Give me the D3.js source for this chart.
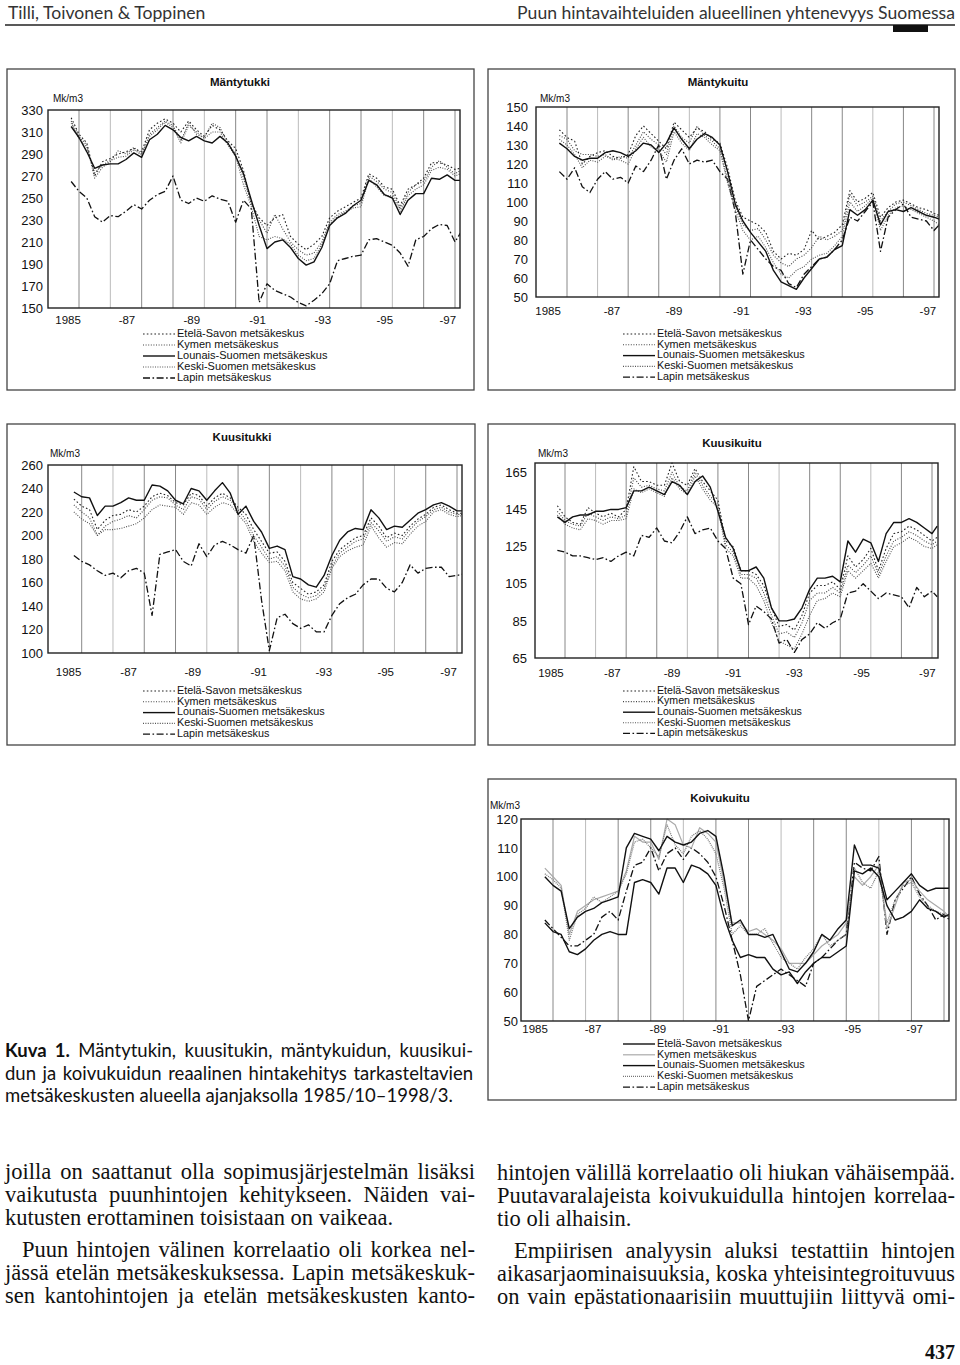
<!DOCTYPE html>
<html>
<head>
<meta charset="utf-8">
<script src="https://cdn.jsdelivr.net/npm/d3@7"></script>
<style>
  body { margin: 0; background: #fff; }
  svg { display: block; }
</style>
</head>
<body>
<svg id="page" width="960" height="1365"></svg>
<script>
// quarterly sampling, 1985/10 ... 1998/1 + 1998/3
const dates = [1985.75,
  1986, 1986.25, 1986.5, 1986.75,
  1987, 1987.25, 1987.5, 1987.75,
  1988, 1988.25, 1988.5, 1988.75,
  1989, 1989.25, 1989.5, 1989.75,
  1990, 1990.25, 1990.5, 1990.75,
  1991, 1991.25, 1991.5, 1991.75,
  1992, 1992.25, 1992.5, 1992.75,
  1993, 1993.25, 1993.5, 1993.75,
  1994, 1994.25, 1994.5, 1994.75,
  1995, 1995.25, 1995.5, 1995.75,
  1996, 1996.25, 1996.5, 1996.75,
  1997, 1997.25, 1997.5, 1997.75,
  1998, 1998.17];

const regions = ["Etelä-Savon metsäkeskus", "Kymen metsäkeskus", "Lounais-Suomen metsäkeskus",
                 "Keski-Suomen metsäkeskus", "Lapin metsäkeskus"];
const yearLabels = ["1985", "-87", "-89", "-91", "-93", "-95", "-97"];
const gridYears = [1986, 1987, 1988, 1989, 1990, 1991, 1992, 1993, 1994, 1995, 1996, 1997, 1998];

// Mäntytukki (Mk/m3)
const mtEtelaSavo = [323, 308,300,270,283, 286,290,292,295, 292,312,318,322, 318,310,320,312, 306,316,312,302, 295,275,245,232, 225,232,235,215, 208,203,208,215, 232,238,242,246, 250,272,268,260, 258,243,258,262, 268,282,282,280, 276,277];
const mtKymi      = [320, 306,298,268,278, 283,293,290,296, 290,308,314,320, 316,302,318,308, 305,318,314,300, 290,268,245,230, 218,235,222,210, 203,198,200,210, 228,235,238,243, 245,270,265,258, 255,240,255,262, 265,278,284,278, 272,275];
const mtLounais   = [315, 305,292,277,280, 281,281,285,291, 287,303,308,316, 312,305,302,306, 302,300,306,300, 288,272,248,225, 204,210,212,205, 195,189,192,205, 225,232,236,243, 248,266,262,253, 250,235,248,254, 254,268,267,271, 266,266];
const mtKeski     = [318, 304,296,273,280, 284,287,288,294, 289,306,312,319, 314,300,316,310, 304,310,310,298, 288,262,242,215, 212,215,213,208, 198,193,195,208, 226,233,237,241, 242,268,260,252, 252,238,252,258, 262,275,278,276, 270,272];
const mtLappi     = [265, 256,250,233,228, 234,233,238,244, 240,248,253,256, 270,248,245,250, 247,252,249,247, 228,248,240,155, 172,166,163,160, 155,152,157,163, 172,193,195,197, 198,212,213,210, 207,200,188,212, 215,222,226,225, 210,218];

// Mäntykuitu
const mkEtelaSavo = [138, 134,132,120,124, 126,127,124,123, 125,135,140,136, 132,128,142,138, 134,139,137,133, 131,118,101,92, 90,88,84,74, 70,73,72,75, 85,80,82,84, 88,106,100,102, 105,92,97,100, 101,99,97,96, 94,93];
const mkKymi      = [135, 133,127,125,125, 124,125,122,124, 123,130,137,133, 130,125,140,134, 131,140,135,132, 128,112,98,88, 85,86,80,72, 68,66,70,72, 76,82,80,82, 85,104,98,100, 103,90,95,99, 100,98,96,94, 93,92];
const mkLounais   = [131, 128,124,122,123, 123,126,127,126, 124,127,131,130, 126,131,139,133, 128,133,136,134, 130,116,99,90, 84,79,74,64, 58,56,54,60, 65,70,71,75, 77,96,93,96, 101,88,95,96, 95,97,95,93, 92,91];
const mkKeski     = [133, 130,125,118,122, 121,124,123,122, 120,128,134,129, 127,121,137,131, 127,136,134,130, 127,110,96,85, 80,82,76,68, 62,60,64,66, 70,72,73,77, 82,100,95,98, 102,85,93,97, 98,96,94,92, 90,88];
const mkLappi     = [116, 112,118,108,105, 112,116,112,113, 110,119,116,122, 130,112,122,128, 120,122,121,122, 116,112,95,62, 80,75,70,66, 64,57,55,62, 66,70,71,75, 80,92,90,95, 100,74,92,96, 99,92,91,90, 85,88];

// Kuusitukki
const ktEtelaSavo = [231, 225,222,205,213, 217,218,222,220, 225,233,236,234, 228,226,236,234, 225,232,236,232, 224,218,205,195, 185,186,178,160, 155,150,152,158, 178,188,193,198, 200,215,208,198, 202,200,208,214, 218,224,226,222, 219,219];
const ktKymi      = [226, 220,215,200,208, 212,214,217,215, 222,230,233,232, 226,222,233,231, 222,229,233,230, 222,213,200,190, 180,182,174,156, 150,147,149,155, 174,185,190,195, 197,211,204,195, 199,197,205,212, 216,222,224,220, 218,218];
const ktLounais   = [237, 233,232,217,225, 225,228,232,230, 230,243,242,238, 230,227,240,238, 230,238,245,236, 218,225,212,203, 189,191,188,165, 163,158,156,166, 183,196,203,206, 205,222,215,205, 208,207,213,219, 222,226,228,225, 221,221];
const ktKeski     = [220, 214,210,200,205, 205,206,208,210, 215,222,226,225, 224,218,228,226, 218,224,228,226, 218,210,195,185, 177,178,170,152, 146,144,146,152, 172,182,187,190, 192,208,198,190, 194,193,201,208, 212,220,222,218, 216,217];
const ktLappi     = [183, 178,175,170,166, 168,164,170,172, 168,132,184,186, 188,178,174,193, 182,192,195,192, 188,185,200,145, 102,130,133,125, 121,124,118,118, 132,142,147,150, 158,163,163,155, 152,160,175,168, 172,173,173,165, 166,167];

// Kuusikuitu
const kkEtelaSavo = [147, 141,138,137,146, 143,141,143,141, 145,168,160,160, 158,158,170,160, 158,167,160,155, 150,128,125,112, 112,110,104,92, 82,83,80,88, 100,104,104,106, 102,120,114,118, 124,112,124,132, 133,136,134,131, 128,130];
const kkKymi      = [144, 139,137,136,143, 141,139,141,140, 142,162,157,158, 156,155,165,157, 155,165,158,152, 148,126,122,110, 110,108,100,88, 78,79,76,84, 96,100,100,103, 100,115,111,115, 120,110,120,128, 130,133,131,128, 126,128];
const kkLounais   = [141, 138,141,142,142, 144,144,145,145, 146,155,155,157, 155,153,160,158, 153,160,163,157, 144,130,124,112, 112,114,108,92, 85,85,86,92, 102,108,108,109, 106,128,122,129, 127,117,132,138, 138,140,138,135, 132,136];
const kkKeski     = [142, 137,135,134,140, 139,137,139,139, 140,156,154,156, 154,152,162,156, 153,163,156,150, 146,124,120,108, 108,104,96,84, 74,72,70,78, 88,96,97,100, 98,112,108,112, 116,108,117,125, 127,130,128,125, 124,126];
const kkLappi     = [123, 122,120,120,119, 118,119,117,120, 122,120,131,130, 135,128,127,133, 141,132,134,135, 128,124,108,105, 83,93,90,86, 73,75,68,75, 78,84,81,84, 86,100,101,105, 101,97,100,99, 98,92,103,98, 101,98];

// Koivukuitu
const kvEtelaSavo = [100, 97,95,82,86, 88,89,91,92, 93,110,115,114, 113,109,114,112, 111,112,115,116, 114,100,83,85, 80,80,79,80, 74,68,67,70, 74,80,78,82, 85,111,104,104, 103,92,95,98, 101,97,95,96, 96,96];
const kvKymi      = [103, 100,97,80,88, 90,92,93,94, 95,102,114,112, 112,106,120,118, 111,110,117,115, 112,98,84,84, 81,82,80,78, 75,70,70,70, 73,76,78,80, 84,100,97,100, 104,82,90,98, 99,95,92,90, 88,86];
const kvLounais   = [84, 81,80,74,73, 75,78,80,81, 80,80,98,99, 98,94,103,103, 98,104,103,101, 97,86,78,72, 73,72,72,68, 66,67,63,67, 70,72,72,74, 76,102,101,103, 100,90,85,86, 88,92,89,88, 86,87];
const kvKeski     = [101, 99,96,78,87, 89,93,91,93, 95,101,112,113, 110,107,118,111, 108,114,116,113, 108,96,80,83, 80,80,82,77, 72,70,68,72, 75,80,76,78, 80,103,98,96, 102,84,92,97, 98,93,90,88, 87,86];
const kvLappi     = [85, 82,79,76,76, 78,80,86,88, 85,95,104,105, 110,102,108,110, 106,110,108,105, 100,90,78,66, 50,62,64,66, 68,66,64,62, 70,72,75,78, 80,105,103,102, 107,80,92,96, 100,94,90,85, 87,85];

// line styles
const dashDot = "7,2.5,1.6,2.5";
const southStyles = [
  { color: "#222", width: 1.1, dash: "1.6,2.2" },
  { color: "#444", width: 1.1, dash: "1,1.6" },
  { color: "#111", width: 1.4, dash: null },
  { color: "#555", width: 1.1, dash: "1,1.4" },
  { color: "#111", width: 1.3, dash: dashDot }
];
const koivuStyles = [
  { color: "#111", width: 1.4, dash: null },
  { color: "#aaa", width: 1.2, dash: null },
  { color: "#111", width: 1.4, dash: null },
  { color: "#777", width: 1.2, dash: "1,1" },
  { color: "#111", width: 1.3, dash: dashDot }
];

const panels = [
  { title: "Mäntytukki", frame: [7, 69, 474, 390], plot: [48, 110, 460, 308], x86: 79, x98: 455,
    yDomain: [150, 330], yTicks: d3.range(150, 331, 20), titleXY: [240, 82], unitXY: [53, 98],
    labelAt: [1985.65, 1987.53, 1989.6, 1991.7, 1993.78, 1995.76, 1997.77], xLabelY: 320,
    legend: [143, 333, 11], styles: southStyles,
    series: [mtEtelaSavo, mtKymi, mtLounais, mtKeski, mtLappi] },
  { title: "Mäntykuitu", frame: [488, 69, 955, 390], plot: [536, 107, 939, 297], x86: 567, x98: 934,
    yDomain: [50, 150], yTicks: d3.range(50, 151, 10), titleXY: [718, 82], unitXY: [540, 98],
    labelAt: [1985.38, 1987.47, 1989.5, 1991.7, 1993.73, 1995.75, 1997.8], xLabelY: 311,
    legend: [623, 333, 10.8], styles: southStyles,
    series: [mkEtelaSavo, mkKymi, mkLounais, mkKeski, mkLappi] },
  { title: "Kuusitukki", frame: [7, 424, 475, 745], plot: [48, 465, 462, 653], x86: 81.7, x98: 457,
    yDomain: [100, 260], yTicks: d3.range(100, 261, 20), titleXY: [242, 437], unitXY: [50, 453],
    labelAt: [1985.58, 1987.5, 1989.55, 1991.66, 1993.74, 1995.72, 1997.73], xLabelY: 672,
    legend: [143, 690, 10.8], styles: southStyles,
    series: [ktEtelaSavo, ktKymi, ktLounais, ktKeski, ktLappi] },
  { title: "Kuusikuitu", frame: [488, 424, 955, 745], plot: [535, 463, 938, 658], x86: 565, x98: 932,
    yDomain: [65, 170], yTicks: d3.range(65, 166, 20), titleXY: [732, 443], unitXY: [538, 453],
    labelAt: [1985.54, 1987.55, 1989.5, 1991.5, 1993.5, 1995.7, 1997.85], xLabelY: 673,
    legend: [623, 690, 10.6], styles: southStyles,
    series: [kkEtelaSavo, kkKymi, kkLounais, kkKeski, kkLappi] },
  { title: "Koivukuitu", frame: [488, 779, 956, 1100], plot: [521, 819, 949, 1021], x86: 553, x98: 944,
    yDomain: [50, 120], yTicks: d3.range(50, 121, 10), titleXY: [720, 798], unitXY: [490, 805],
    labelAt: [1985.45, 1987.23, 1989.22, 1991.15, 1993.15, 1995.2, 1997.1], xLabelY: 1029,
    legend: [623, 1043, 10.8], styles: koivuStyles,
    series: [kvEtelaSavo, kvKymi, kvLounais, kvKeski, kvLappi] }
];

const svg = d3.select("#page");
const chartFont = "'Liberation Sans', Arial, sans-serif";

function applyStyle(sel, st) {
  sel.attr("fill", "none")
    .attr("stroke", st.color)
    .attr("stroke-width", st.width)
    .attr("stroke-dasharray", st.dash);
}

function drawPanel(p, idx) {
  const g = svg.append("g");
  const [fx0, fy0, fx1, fy1] = p.frame;
  const [px0, py0, px1, py1] = p.plot;

  g.append("rect")
    .attr("x", fx0).attr("y", fy0)
    .attr("width", fx1 - fx0).attr("height", fy1 - fy0)
    .attr("fill", "none").attr("stroke", "#444").attr("stroke-width", 1.3);

  const x = d3.scaleLinear().domain([1986, 1998]).range([p.x86, p.x98]);
  const y = d3.scaleLinear().domain(p.yDomain).range([py1, py0]);

  // yearly gridlines
  g.selectAll("line.grid")
    .data(gridYears)
    .join("line")
    .attr("class", "grid")
    .attr("x1", d => x(d)).attr("x2", d => x(d))
    .attr("y1", py0).attr("y2", py1)
    .attr("stroke", (d, i) => i % 3 === 1 ? "#bbb" : "#888")
    .attr("stroke-width", 1);

  // y axis labels
  const yAxis = d3.axisLeft(y).tickValues(p.yTicks).tickSize(0).tickPadding(idx === 4 ? 3 : (px0 > 500 ? 8 : 5));
  const ya = g.append("g").attr("transform", `translate(${px0},0)`).call(yAxis);
  ya.select(".domain").remove();
  ya.selectAll("text")
    .attr("font-family", chartFont)
    .attr("font-size", "13px")
    .attr("fill", "#111");

  // x labels
  g.selectAll("text.xl")
    .data(yearLabels)
    .join("text")
    .attr("class", "xl")
    .attr("x", (d, i) => x(p.labelAt[i]))
    .attr("y", p.xLabelY)
    .attr("dy", "0.35em")
    .attr("text-anchor", "middle")
    .attr("font-family", chartFont)
    .attr("font-size", "11.5px")
    .attr("fill", "#111")
    .text(d => d);

  // series
  const clipId = "clip" + idx;
  svg.append("clipPath").attr("id", clipId)
    .append("rect").attr("x", px0).attr("y", py0 - 2)
    .attr("width", px1 - px0).attr("height", py1 - py0 + 2);

  const line = d3.line()
    .x((d, i) => x(dates[i]))
    .y(d => y(d));

  const lines = g.append("g").attr("clip-path", `url(#${clipId})`);
  // Lapin first, solid last so it stays on top
  [4, 1, 3, 0, 2].forEach(k => {
    lines.append("path")
      .attr("d", line(p.series[k]))
      .call(applyStyle, p.styles[k])
      .attr("stroke-linejoin", "round");
  });

  // plot border
  g.append("rect")
    .attr("x", px0).attr("y", py0)
    .attr("width", px1 - px0).attr("height", py1 - py0)
    .attr("fill", "none").attr("stroke", "#222").attr("stroke-width", 1.4);

  // title and unit
  g.append("text")
    .attr("x", p.titleXY[0]).attr("y", p.titleXY[1])
    .attr("dy", "0.35em")
    .attr("text-anchor", "middle")
    .attr("font-family", chartFont)
    .attr("font-weight", "bold")
    .attr("font-size", "11.5px")
    .attr("fill", "#111")
    .text(p.title);

  g.append("text")
    .attr("x", p.unitXY[0]).attr("y", p.unitXY[1])
    .attr("dy", "0.35em")
    .attr("font-family", chartFont)
    .attr("font-size", "10px")
    .attr("fill", "#111")
    .text("Mk/m3");

  // legend
  const [lx, ly, step] = p.legend;
  const leg = g.append("g");
  regions.forEach((r, k) => {
    const yy = ly + k * step;
    leg.append("line")
      .attr("x1", lx).attr("x2", lx + 32)
      .attr("y1", yy + 1).attr("y2", yy + 1)
      .call(applyStyle, p.styles[k]);
    leg.append("text")
      .attr("x", lx + 34).attr("y", yy)
      .attr("dy", "0.35em")
      .attr("font-family", chartFont)
      .attr("font-size", Math.min(11.2, step) + "px")
      .attr("fill", "#111")
      .text(r);
  });
}

panels.forEach(drawPanel);

// ---- page text ----
const headFont = "Lato, 'Open Sans', sans-serif";
const bodyFont = "'Liberation Serif', 'Times New Roman', serif";

// justify a text element to width w by spreading word spacing
function justify(sel, w) {
  const node = sel.node();
  const natural = node.getComputedTextLength();
  const spaces = (node.textContent.match(/ /g) || []).length;
  if (natural > w) {
    sel.attr("textLength", w).attr("lengthAdjust", "spacingAndGlyphs");
  } else if (spaces > 0) {
    sel.attr("word-spacing", (w - natural) / spaces);
  }
}

svg.append("text").attr("x", 8).attr("y", 19)
  .attr("font-family", headFont).attr("font-size", "17.6px")
  .attr("fill", "#333")
  .text("Tilli, Toivonen & Toppinen");
svg.append("text").attr("x", 955).attr("y", 19)
  .attr("text-anchor", "end")
  .attr("font-family", headFont).attr("font-size", "17.6px")
  .attr("fill", "#333")
  .text("Puun hintavaihteluiden alueellinen yhtenevyys Suomessa");
svg.append("line").attr("x1", 5).attr("x2", 955).attr("y1", 25).attr("y2", 25)
  .attr("stroke", "#222").attr("stroke-width", 1.5);
svg.append("rect").attr("x", 893).attr("y", 25).attr("width", 35).attr("height", 7).attr("fill", "#111");

// caption
const captionLines = [
  "Mäntytukin, kuusitukin, mäntykuidun, kuusikui-",
  "dun ja koivukuidun reaalinen hintakehitys tarkasteltavien",
  "metsäkeskusten alueella ajanjaksolla 1985/10–1998/3."
];
const capWidths = [468, 468, 0];
captionLines.forEach((t, i) => {
  const tx = svg.append("text")
    .attr("x", 5).attr("y", 1057 + i * 22.5)
    .attr("font-family", headFont).attr("font-size", "18.5px").attr("fill", "#111");
  if (i === 0) {
    tx.append("tspan").attr("font-weight", "bold").text("Kuva 1. ");
  }
  tx.append("tspan").text(t);
  if (capWidths[i]) justify(tx, capWidths[i]);
});

// body text, two justified columns
const leftCol = [
  { t: "joilla on saattanut olla sopimusjärjestelmän lisäksi", x: 5, w: 470 },
  { t: "vaikutusta puunhintojen kehitykseen. Näiden vai-", x: 5, w: 470 },
  { t: "kutusten erottaminen toisistaan on vaikeaa.", x: 5, w: 0 },
  { t: "Puun hintojen välinen korrelaatio oli korkea nel-", x: 22, w: 453 },
  { t: "jässä etelän metsäkeskuksessa. Lapin metsäkeskuk-", x: 5, w: 470 },
  { t: "sen kantohintojen ja etelän metsäkeskusten kanto-", x: 5, w: 470 }
];
const rightCol = [
  { t: "hintojen välillä korrelaatio oli hiukan vähäisempää.", x: 497, w: 458 },
  { t: "Puutavaralajeista koivukuidulla hintojen korrelaa-", x: 497, w: 458 },
  { t: "tio oli alhaisin.", x: 497, w: 0 },
  { t: "Empiirisen analyysin aluksi testattiin hintojen", x: 514, w: 441 },
  { t: "aikasarjaominaisuuksia, koska yhteisintegroituvuus", x: 497, w: 458 },
  { t: "on vain epästationaarisiin muuttujiin liittyvä omi-", x: 497, w: 458 }
];
const lineYs = [1179, 1202, 1225, 1257, 1280, 1303];
[leftCol, rightCol].forEach((col, c) => {
  col.forEach((ln, i) => {
    const tx = svg.append("text")
      .attr("x", ln.x).attr("y", lineYs[i] + (c === 1 ? 1 : 0))
      .attr("font-family", bodyFont).attr("font-size", "22.5px").attr("fill", "#111")
      .text(ln.t);
    if (ln.w) justify(tx, ln.w);
  });
});

svg.append("text").attr("x", 955).attr("y", 1359)
  .attr("text-anchor", "end")
  .attr("font-family", bodyFont).attr("font-weight", "bold").attr("font-size", "20px")
  .attr("fill", "#111")
  .text("437");
</script>
</body>
</html>
